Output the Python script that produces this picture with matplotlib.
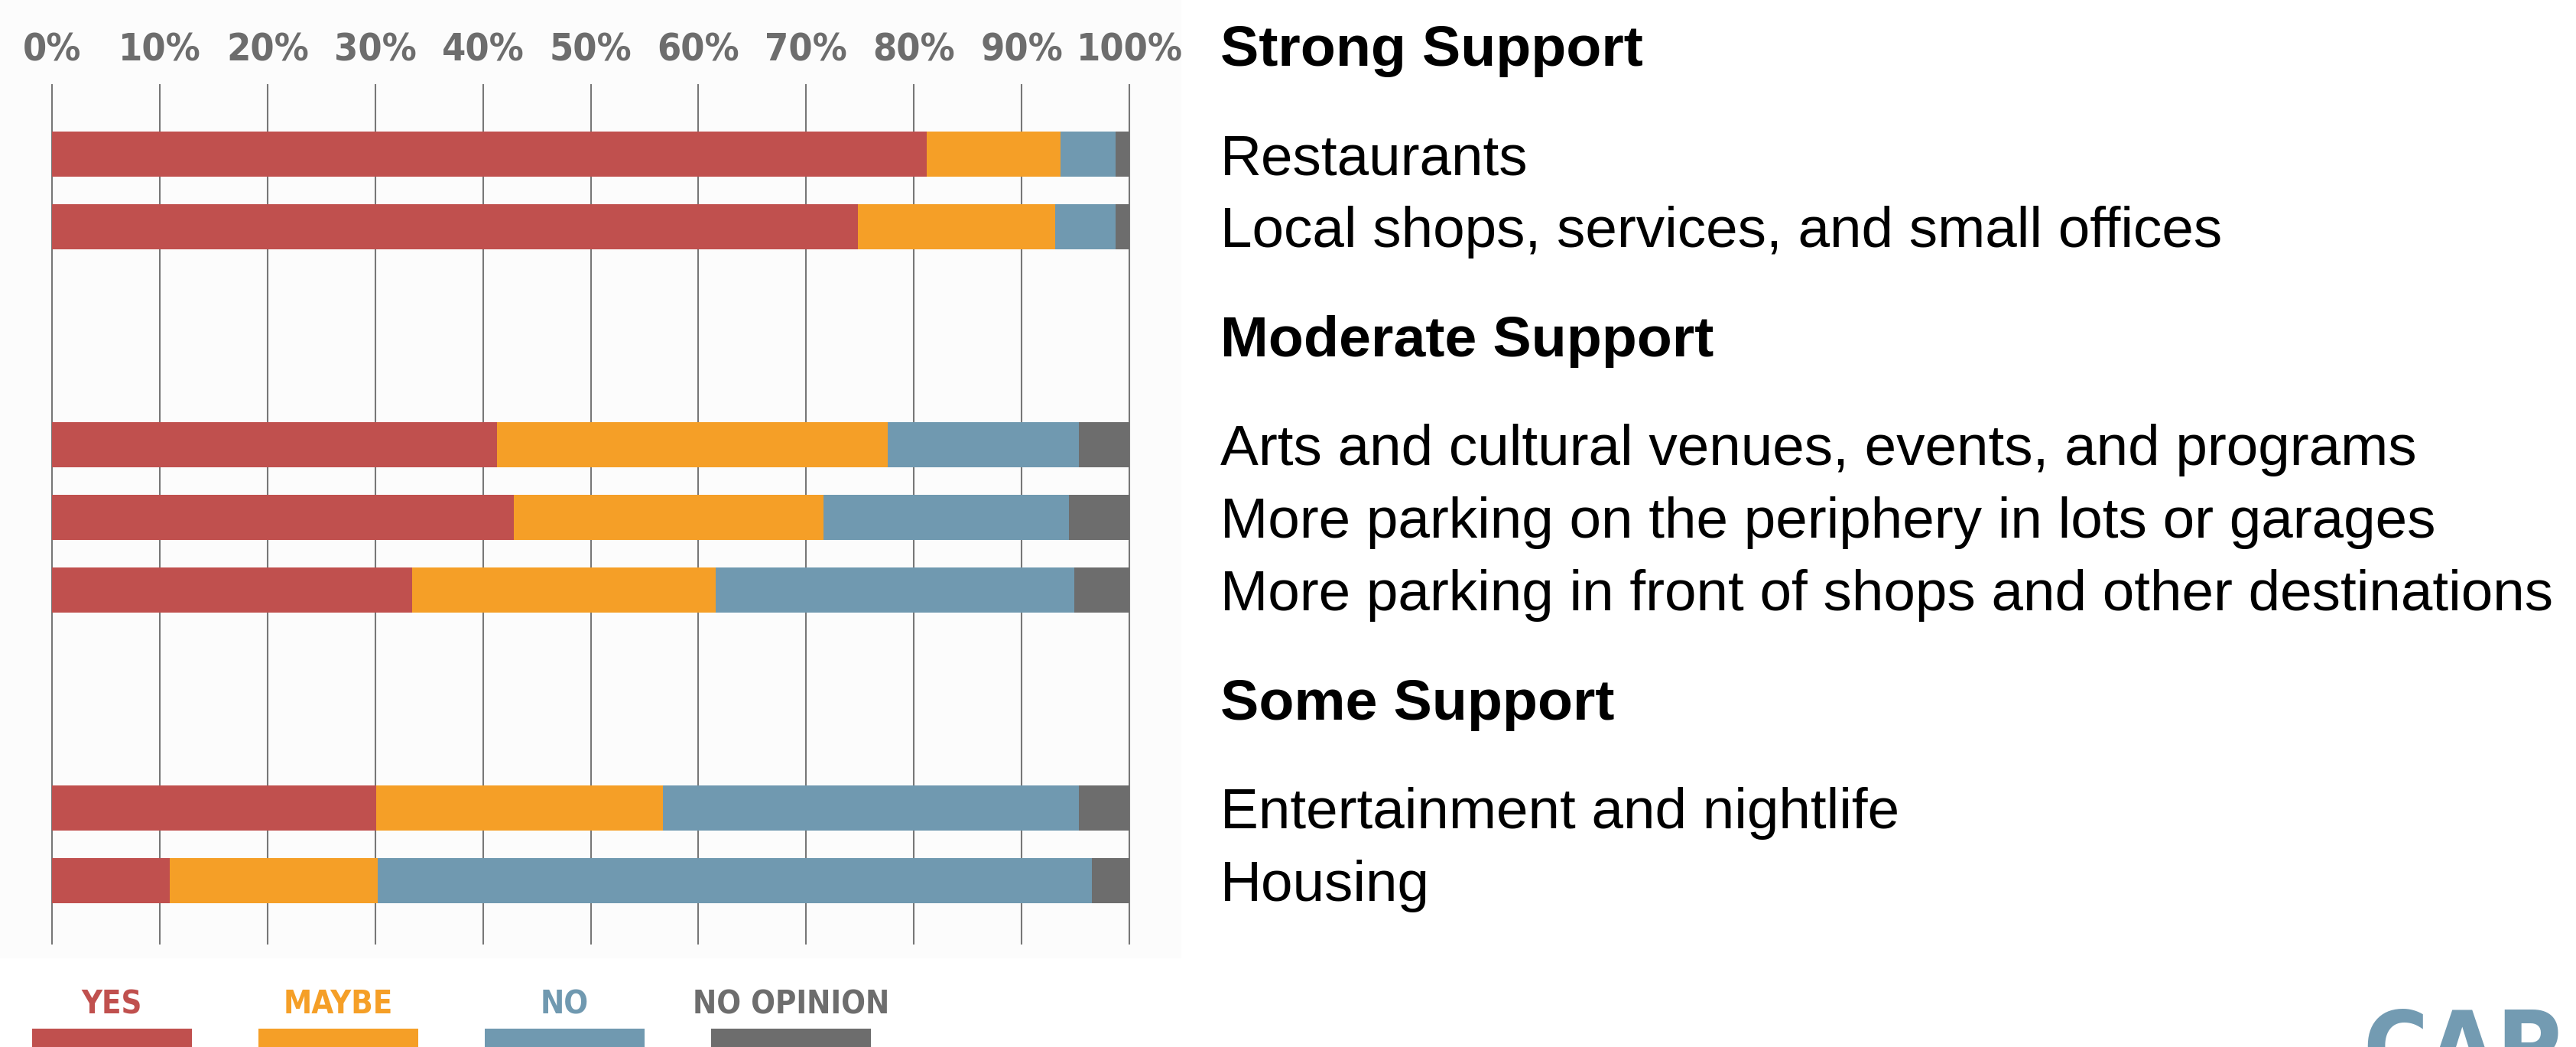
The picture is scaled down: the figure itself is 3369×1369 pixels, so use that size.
import matplotlib
matplotlib.use("Agg")
import matplotlib.pyplot as plt
from matplotlib import transforms
from matplotlib.patches import Rectangle

# ---- data -------------------------------------------------------------
groups = ["Strong Support", "Moderate Support", "Some Support"]
categories = [
    ["Restaurants", "Local shops, services, and small offices"],
    ["Arts and cultural venues, events, and programs",
     "More parking on the periphery in lots or garages",
     "More parking in front of shops and other destinations"],
    ["Entertainment and nightlife", "Housing"],
]
series_names = ["YES", "MAYBE", "NO", "NO OPINION"]
yes = [81.2, 74.8, 41.3, 42.9, 33.4, 30.1, 10.9]
maybe = [12.4, 18.3, 36.3, 28.7, 28.2, 26.6, 19.3]
no = [5.1, 5.6, 17.7, 22.8, 33.3, 38.6, 66.3]
no_opinion = [1.3, 1.3, 4.7, 5.6, 5.1, 4.7, 3.5]
ticks = list(range(0, 101, 10))

colors = ["#c0504e", "#f59f27", "#7099b0", "#6d6d6d"]
grid_color = "#777777"

W, H = 3369, 1369
fig = plt.figure(figsize=(W / 100, H / 100), dpi=100)
fig.patch.set_facecolor("white")


def fx(px):
    return px / W


def fy(py):
    return 1 - py / H


# faint panel behind the chart
fig.patches.append(Rectangle((0, fy(1253)), fx(1545), 1 - fy(1253),
                             transform=fig.transFigure, facecolor="#fcfcfc",
                             edgecolor="none", zorder=-5))

# ---- bar axes ---------------------------------------------------------
ax_left, ax_right, ax_top, ax_bottom = 68, 1477, 110, 1235
ax = fig.add_axes([fx(ax_left), fy(ax_bottom), fx(ax_right - ax_left),
                   fy(ax_top) - fy(ax_bottom)])
ax.set_zorder(2)
ax.set_facecolor("none")
for s in ax.spines.values():
    s.set_visible(False)
ax.set_xticks([])
ax.set_yticks([])

# row slots: items in a group are consecutive, two empty slots between groups
slots = []
group_first = []
slot = 0
for items in categories:
    group_first.append(slot)
    for _ in items:
        slots.append(slot)
        slot += 1
    slot += 2

ylim = (10.88, -0.96)
ax.set_xlim(0, 100)
ax.set_ylim(*ylim)

ax.vlines(ticks, ylim[1], ylim[0], colors=grid_color, linewidth=1.5,
          zorder=1, clip_on=False)

bar_h = 0.62
left = [0.0] * len(yes)
for vals, col in zip([yes, maybe, no, no_opinion], colors):
    ax.barh(slots, vals, left=left, height=bar_h, color=col,
            edgecolor="none", zorder=2)
    left = [a + b for a, b in zip(left, vals)]

# percentage labels along the top
narrow = dict(family=["DejaVu Sans"], stretch="condensed", fontweight="bold")
top_tr = transforms.blended_transform_factory(ax.transData, fig.transFigure)
for t in ticks:
    ax.text(t, fy(79), f"{t}%", transform=top_tr, ha="center",
            va="baseline", fontsize=36, color="#6d6d6d", clip_on=False,
            **narrow)

# ---- category text on the right --------------------------------------
text_x = fx(1596)
row_tr = transforms.blended_transform_factory(fig.transFigure, ax.transData)
shift = transforms.ScaledTranslation(0, -0.27, fig.dpi_scale_trans)
sans = ["Liberation Sans", "DejaVu Sans"]
i = 0
for g, items, first in zip(groups, categories, group_first):
    fig.text(text_x, first - 1.5, g, transform=row_tr + shift,
             ha="left", va="baseline", fontsize=54.3, fontweight="bold",
             family=sans, color="black")
    for item in items:
        fig.text(text_x, slots[i], item, transform=row_tr + shift,
                 ha="left", va="baseline", fontsize=53.8, family=sans,
                 color="black")
        i += 1

# ---- legend -----------------------------------------------------------
leg_x0, leg_step, leg_w = 42, 296, 209
for k, (name, col) in enumerate(zip(series_names, colors)):
    x0 = leg_x0 + k * leg_step
    fig.patches.append(Rectangle((fx(x0), fy(1369)), fx(leg_w), fy(1345) - fy(1369),
                                 transform=fig.transFigure, facecolor=col,
                                 edgecolor="none"))
    fig.text(fx(x0 + leg_w / 2), fy(1325), name, ha="center", va="baseline",
             fontsize=30, color=col, **narrow)

# ---- logo mark --------------------------------------------------------
fig.text(fx(3090), fy(1414), "CAP", ha="left", va="baseline", fontsize=93,
         color="#739bb2", **narrow)

fig.savefig("out.png", dpi=100, facecolor="white")
